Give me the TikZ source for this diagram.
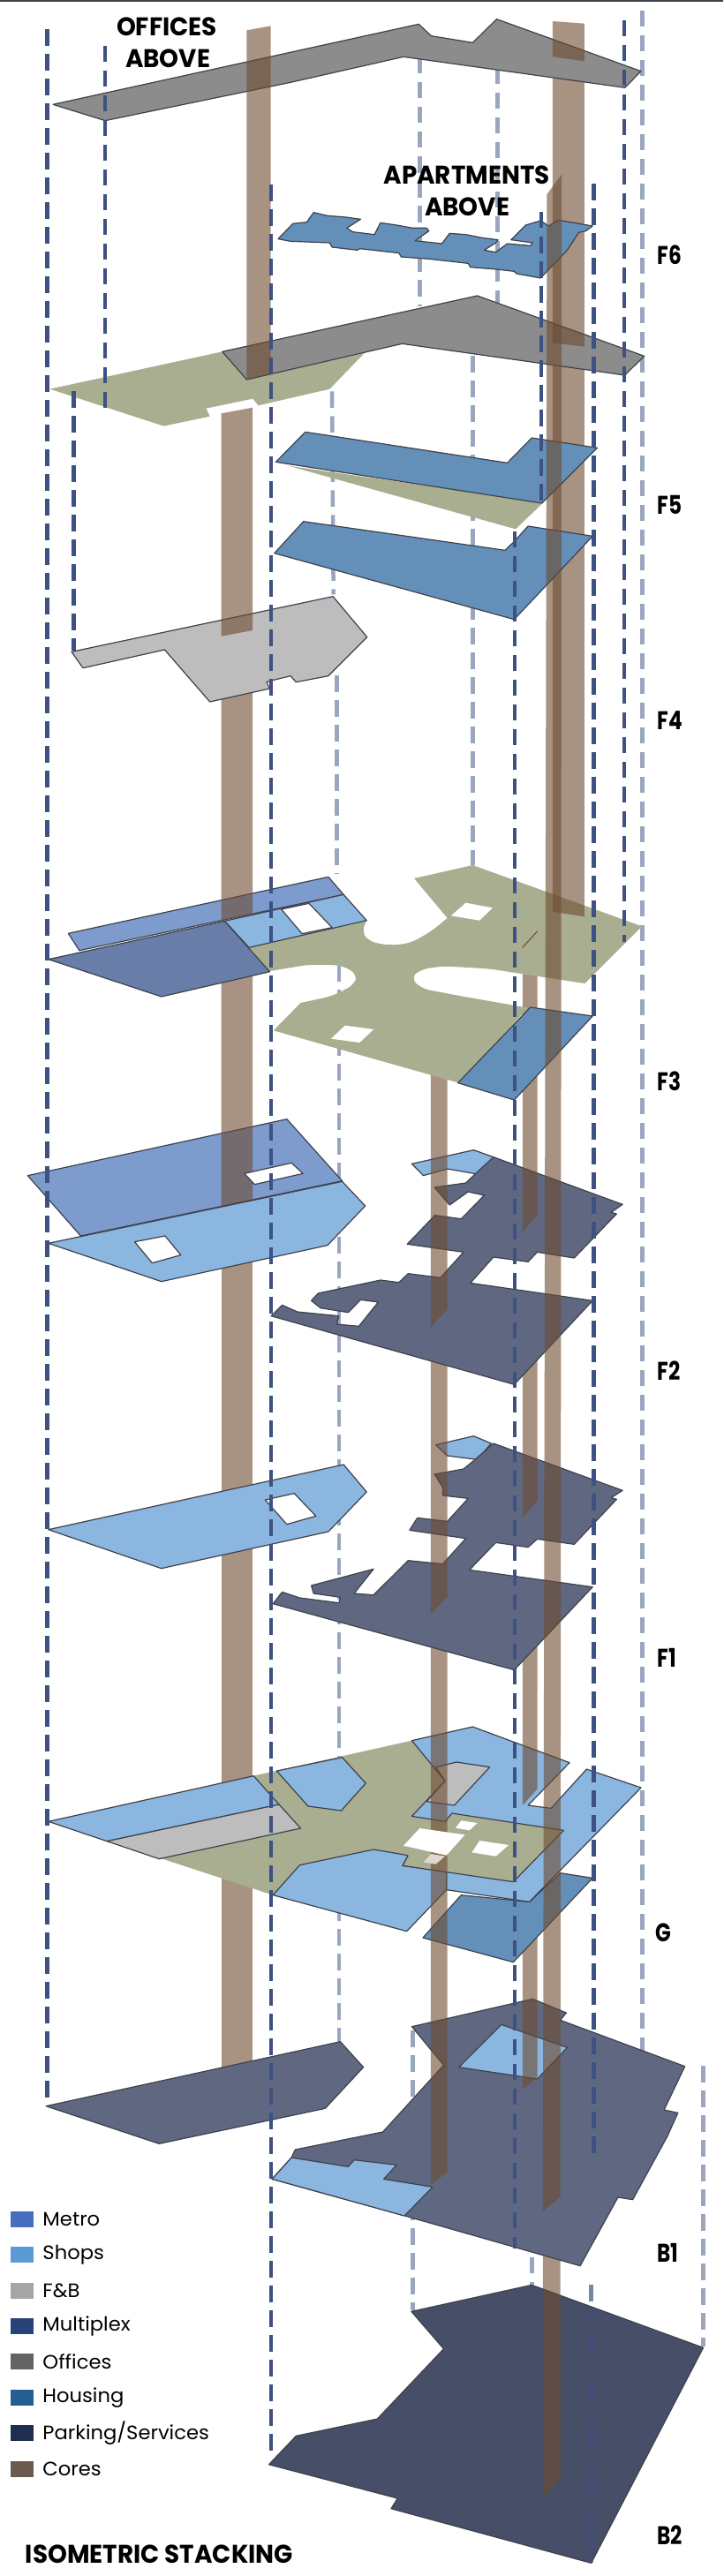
\documentclass[tikz,border=0pt]{standalone}
\usepackage{fontspec}
\setmainfont{Poppins}
\usetikzlibrary{positioning}
\definecolor{metrocol}{RGB}{126,155,206}
\definecolor{shopcol}{RGB}{138,182,223}
\definecolor{fbcol}{RGB}{189,189,189}
\definecolor{multicol}{RGB}{104,125,168}
\definecolor{officecol}{RGB}{140,140,140}
\definecolor{housecol}{RGB}{99,143,184}
\definecolor{parkcol}{RGB}{95,104,128}
\definecolor{basecol}{RGB}{70,78,104}
\definecolor{olivecol}{RGB}{169,174,145}
\definecolor{corecol}{RGB}{110,75,48}
\definecolor{edgecol}{RGB}{62,66,76}
\definecolor{dashdark}{RGB}{61,81,130}
\definecolor{dashlight}{RGB}{154,166,190}
\tikzset{
  c2/.style={shift={(0,1440)}},
  c3/.style={shift={(0,2880)}},
  c4/.style={shift={(0,4320)}},
  c5/.style={shift={(0,5760)}},
  c6/.style={shift={(0,7260)}},
  plate/.style={draw=edgecol, line width=1.2pt, line join=round},
  hole/.style={plate, fill=white},
  core/.style={fill=corecol, fill opacity=.6, draw=none},
  dark/.style={draw=dashdark, line width=4.5pt, dash pattern=on 18.5pt off 9.5pt},
  pale/.style={draw=dashlight, line width=4.5pt, dash pattern=on 18.5pt off 9.5pt},
  floorlabel/.style={anchor=west, inner sep=0pt, font=\fontsize{29}{29}\selectfont\bfseries, xscale=.8, transform shape},
  heading/.style={inner sep=0pt, font=\fontsize{29}{29}\selectfont\bfseries, xscale=.96, transform shape},
  swatch/.style={minimum width=26pt, minimum height=18pt, inner sep=0pt},
  keytext/.style={anchor=west, inner sep=0pt, font=\fontsize{22}{22}\selectfont, xscale=1.03, transform shape}
}
\begin{document}
\begin{tikzpicture}[x=0.52232pt, y=-0.33333pt]
  \useasboundingbox (0,0) rectangle (1568,8754);
  \draw[draw=edgecol, line width=1.6pt] (0,3) -- (1568,3);
  % pale lines at the back
  \draw[pale] (1393,35) -- (1393,6985);
  \draw[pale] (910,195) -- (910,1040);
  \draw[pale] (1079,230) -- (1079,1030);
  \draw[pale] (1025,1210) -- (1025,2940);
  \draw[pale] (720,1330) -- (723,2020);
  \draw[pale] (730,2295) -- (730,2970);
  \draw[pale] (735,3280) -- (735,6940);
  \draw[pale] (895,6900) -- (895,7850);
  \draw[pale] (1525,7020) -- (1525,7975);
  \draw[pale] (1153,7670) -- (1153,7765);
  % B2
  \filldraw[plate, fill=basecol, c6] (892,595) -- (1153,505) -- (1525,718) -- (1282,1450) -- (848,1265) -- (862,1230) -- (583,1115) -- (642,1018) -- (818,960) -- (962,722) -- cycle;
  \fill[core] (1177,7660) -- (1215,7660) -- (1215,8425) -- (1177,8490) -- cycle;
  \fill[core] (480,4180) -- (548,4180) -- (548,7060) -- (480,7060) -- cycle;
  % B1
  \filldraw[plate, fill=parkcol, c5] (100,1397) -- (738,1178) -- (788,1265) -- (705,1405) -- (345,1525) -- cycle;
  \filldraw[plate, fill=parkcol] (893,6887) -- (1155,6793) -- (1228,6840) -- (1215,6865) -- (1485,7022) -- (1440,7170) -- (1470,7180) -- (1447,7260) -- (1372,7475) -- (1340,7467) -- (1258,7700) -- (878,7530) -- (590,7405) -- (632,7332) -- (640,7305) -- (830,7245) -- (962,7018) -- cycle;
  \filldraw[plate, fill=shopcol, c6] (590,145) -- (632,72) -- (755,103) -- (768,80) -- (860,97) -- (832,145) -- (938,172) -- (877,270) -- cycle;
  \filldraw[plate, fill=shopcol, c5] (1087,1120) -- (1230,1198) -- (1165,1305) -- (995,1265) -- cycle;
  \fill[core] (1133,6510) -- (1165,6510) -- (1165,7060) -- (1133,7102) -- cycle;
  % G
  \begin{scope}[c5]
    \filldraw[plate, fill=housecol] (917,825) -- (1000,680) -- (1148,703) -- (1215,605) -- (1285,622) -- (1113,908) -- cycle;
    \fill[olivecol] (105,430) -- (893,155) -- (965,292) -- (893,412) -- (965,430) -- (980,402) -- (1222,460) -- (1113,635) -- (873,580) -- (885,545) -- (810,525) -- (650,578) -- (592,680) -- cycle;
    \filldraw[plate, fill=shopcol] (893,155) -- (1025,108) -- (1235,230) -- (1145,375) -- (1195,385) -- (1272,252) -- (1390,315) -- (1148,703) -- (968,662) -- (968,580) -- (1000,450) -- (965,430) -- (893,412) -- (965,292) -- cycle;
    \filldraw[plate, fill=fbcol] (945,245) -- (990,228) -- (1062,245) -- (985,375) -- (925,362) -- (965,292) -- cycle;
    \filldraw[plate, fill=shopcol] (650,578) -- (810,525) -- (885,545) -- (873,580) -- (968,600) -- (968,662) -- (882,803) -- (592,680) -- cycle;
    \filldraw[plate, fill=shopcol] (105,430) -- (550,275) -- (605,372) -- (232,497) -- cycle;
    \filldraw[plate, fill=fbcol] (232,497) -- (605,372) -- (652,453) -- (345,557) -- cycle;
    \filldraw[plate, fill=shopcol] (600,258) -- (742,212) -- (793,300) -- (740,393) -- (668,378) -- cycle;
  \end{scope}
  \fill[core] (1133,5520) -- (1165,5520) -- (1165,6080) -- (1133,6135) -- cycle;
  \begin{scope}[c5]
    \fill[olivecol] (965,430) -- (980,402) -- (1222,460) -- (1113,635) -- (873,580) -- (885,545) -- (850,500) -- cycle;
    \draw[plate] (965,430) -- (980,402) -- (1222,460) -- (1113,635) -- (873,580) -- (885,545);
  \end{scope}
  \fill[core] (934,5570) -- (970,5570) -- (970,7380) -- (934,7425) -- cycle;
  \begin{scope}[c5]
    \fill[white] (910,453) -- (1008,475) -- (968,545) -- (875,512) -- cycle;
    \fill[white] (1000,427) -- (1035,435) -- (1018,460) -- (988,452) -- cycle;
    \fill[white] (1040,495) -- (1103,510) -- (1075,548) -- (1023,535) -- cycle;
    \fill[white!78!corecol] (935,540) -- (965,548) -- (945,575) -- (918,568) -- cycle;
  \end{scope}
  % F1
  \begin{scope}[c4]
    \filldraw[plate, fill=shopcol] (105,878) -- (745,657) -- (795,750) -- (712,885) -- (350,1010) -- cycle;
    \filldraw[hole] (575,777) -- (638,755) -- (685,832) -- (622,860) -- (585,795) -- cycle;
    \filldraw[plate, fill=shopcol] (945,590) -- (1027,560) -- (1065,585) -- (1035,640) -- (970,627) -- cycle;
    \filldraw[plate, fill=parkcol] (1070,585) -- (1350,745) -- (1325,770) -- (1337,775) -- (1245,928) -- (1165,910) -- (1145,938) -- (1075,922) -- (1018,1015) -- (1285,1073) -- (1115,1355) -- (592,1130) -- (612,1090) -- (650,1110) -- (735,1127) -- (738,1108) -- (680,1095) -- (675,1068) -- (810,1012) -- (768,1095) -- (810,1100) -- (885,983) -- (960,995) -- (1010,908) -- (888,880) -- (905,838) -- (970,850) -- (1015,772) -- (960,762) -- (960,735) -- (942,690) -- (1005,672) -- (1030,640) -- cycle;
  \end{scope}
  \fill[core] (934,4570) -- (970,4570) -- (970,5425) -- (934,5485) -- cycle;
  \fill[core] (1133,4520) -- (1165,4520) -- (1165,5100) -- (1133,5158) -- cycle;
  % F2
  \begin{scope}[c3]
    \filldraw[plate, fill=metrocol] (60,1115) -- (622,923) -- (742,1133) -- (175,1320) -- cycle;
  \end{scope}
  \fill[core] (480,3280) -- (548,3280) -- (548,4075) -- (480,4102) -- cycle;
  \begin{scope}[c3]
    \filldraw[hole] (530,1108) -- (632,1072) -- (657,1108) -- (552,1145) -- cycle;
    \filldraw[plate, fill=shopcol] (105,1345) -- (742,1135) -- (792,1218) -- (710,1352) -- (350,1475) -- cycle;
    \filldraw[hole] (292,1340) -- (358,1320) -- (392,1385) -- (330,1412) -- cycle;
  \end{scope}
  \filldraw[plate, fill=shopcol] (893,3955) -- (1027,3908) -- (1070,3932) -- (1035,3990) -- (970,3972) -- (918,3995) -- cycle;
  \filldraw[plate, fill=parkcol] (1070,3932) -- (1350,4093) -- (1325,4120) -- (1337,4125) -- (1245,4275) -- (1165,4255) -- (1145,4288) -- (1070,4272) -- (1020,4360) -- (1285,4420) -- (1115,4705) -- (588,4472) -- (612,4435) -- (645,4458) -- (735,4472) -- (730,4500) -- (778,4507) -- (820,4425) -- (782,4417) -- (755,4460) -- (695,4445) -- (675,4420) -- (690,4395) -- (825,4350) -- (865,4358) -- (885,4328) -- (955,4342) -- (1005,4255) -- (883,4228) -- (943,4130) -- (1000,4142) -- (1050,4062) -- (1015,4050) -- (975,4095) -- (942,4035) -- (1010,4020) -- (1030,3990) -- cycle;
  \fill[core] (934,3580) -- (970,3580) -- (970,4450) -- (934,4510) -- cycle;
  \fill[core] (1133,3180) -- (1165,3180) -- (1165,4130) -- (1133,4185) -- cycle;
  % F3
  \begin{scope}[c3]
    \fill[olivecol] (540,340) -- (795,250) [rounded corners=9pt] -- (783,285) -- (800,320) -- (845,333) -- (890,325) -- (935,285) [sharp corners] -- (970,240) -- (898,105) -- (1025,60) -- (1392,268) -- (1268,462) [rounded corners=9pt] -- (1060,412) -- (960,403) -- (910,415) -- (890,445) -- (915,480) -- (1000,505) [sharp corners] -- (1145,545) -- (995,800) -- (593,622) -- (652,528) [rounded corners=9pt] -- (720,505) -- (770,465) -- (775,430) -- (740,400) -- (670,398) [sharp corners] -- (585,420) -- cycle;
    \fill[white] (1010,188) -- (1068,205) -- (1040,248) -- (978,232) -- cycle;
    \fill[white] (748,605) -- (810,618) -- (780,663) -- (718,650) -- cycle;
    \filldraw[plate, fill=housecol] (1150,543) -- (1285,573) -- (1115,858) -- (993,800) -- cycle;
    \draw[draw=corecol, line width=1pt] (1133,340) -- (1165,285);
  \end{scope}
  \fill[core] (1198,1230) -- (1267,1230) -- (1267,3115) -- (1198,3098) -- cycle;
  \begin{scope}[c3]
    \filldraw[plate, fill=metrocol] (148,292) -- (712,100) -- (745,160) -- (172,350) -- cycle;
  \end{scope}
  \fill[core] (480,2340) -- (548,2340) -- (548,3105) -- (480,3130) -- cycle;
  \begin{scope}[c3]
    \filldraw[plate, fill=shopcol] (487,250) -- (745,160) -- (795,248) -- (540,340) -- cycle;
    \filldraw[hole] (610,210) -- (670,190) -- (720,272) -- (655,293) -- cycle;
    \filldraw[plate, fill=multicol] (105,380) -- (487,250) -- (585,422) -- (350,507) -- cycle;
  \end{scope}
  % F4
  \filldraw[plate, fill=fbcol, c2] (155,775) -- (722,587) -- (796,725) -- (712,857) -- (642,878) -- (630,857) -- (588,873) -- (578,878) -- (585,900) -- (455,945) -- (357,768) -- (180,830) -- cycle;
  \fill[core] (480,1405) -- (548,1385) -- (548,2142) -- (480,2162) -- cycle;
  % F5
  \begin{scope}[c2]
    \filldraw[plate, fill=housecol] (595,440) -- (658,332) -- (1095,430) -- (1115,400) -- (1145,348) -- (1285,382) -- (1115,665) -- cycle;
    \fill[olivecol] (625,143) -- (1178,268) -- (1118,358) -- cycle;
    \filldraw[plate, fill=housecol] (598,130) -- (662,28) -- (1100,133) -- (1153,48) -- (1295,82) -- (1175,270) -- cycle;
  \end{scope}
  \fill[olivecol] (108,1322) -- (482,1195) -- (535,1290) -- (790,1200) -- (715,1322) -- (560,1378) -- (548,1355) -- (447,1388) -- (455,1415) -- (355,1448) -- cycle;
  \filldraw[plate, fill=officecol] (482,1195) -- (1035,1005) -- (1397,1210) -- (1355,1275) -- (872,1168) -- (535,1290) -- cycle;
  \fill[core] (1198,200) -- (1267,200) -- (1267,1178) -- (1198,1165) -- cycle;
  % F6
  \filldraw[plate, fill=housecol] (603,812) -- (635,760) -- (665,755) -- (680,722) -- (710,733) -- (750,738) -- (782,745) -- (752,775) -- (765,788) -- (812,797) -- (825,757) -- (860,765) -- (895,775) -- (925,775) -- (930,785) -- (900,818) -- (958,828) -- (975,793) -- (1010,797) -- (1045,808) -- (1080,815) -- (1075,825) -- (1050,850) -- (1075,857) -- (1100,828) -- (1150,835) -- (1155,825) -- (1108,815) -- (1140,765) -- (1172,750) -- (1190,768) -- (1210,748) -- (1285,768) -- (1270,785) -- (1255,790) -- (1230,850) -- (1172,945) -- (1120,930) -- (1115,922) -- (1075,915) -- (1020,908) -- (1015,895) -- (930,880) -- (870,873) -- (865,860) -- (780,845) -- (775,850) -- (720,840) -- (715,825) -- (630,820) -- cycle;
  % roof
  \filldraw[plate, fill=officecol] (115,355) -- (908,82) -- (935,122) -- (1025,145) -- (1077,65) -- (1390,242) -- (1355,298) -- (875,193) -- (630,280) -- (228,410) -- cycle;
  \fill[core] (1198,72) -- (1267,80) -- (1267,208) -- (1198,193) -- cycle;
  \fill[core] (535,103) -- (587,88) -- (587,1270) -- (535,1290) -- cycle;
  \fill[core] (1186,660) -- (1218,592) -- (1215,7465) -- (1177,7515) -- cycle;
  % dark lines on top
  \draw[dark] (102,100) -- (102,7150);
  \draw[dark] (228,155) -- (228,1385);
  \draw[dark] (160,1330) -- (160,2210);
  \draw[dark] (588,628) -- (588,8350);
  \draw[dark] (1174,720) -- (1174,1710);
  \draw[dark] (1116,1805) -- (1116,7640);
  \draw[dark] (1287,625) -- (1287,7335);
  \draw[dark] (1354,68) -- (1354,3200);
  \draw[dark, opacity=.7] (1282,7765) -- (1282,8710);
  % labels
  \node[heading] (offone) at (362,90) {OFFICES};
  \node[heading] (offtwo) at (364,198) {ABOVE};
  \node[heading] (aptone) at (1012,594) {APARTMENTS};
  \node[heading] (apttwo) at (1013,702) {ABOVE};
  \node[floorlabel] (fsix) at (1425,866) {F6};
  \node[floorlabel] (ffive) at (1425,1717) {F5};
  \node[floorlabel] (ffour) at (1425,2447) {F4};
  \node[floorlabel] (fthree) at (1425,3675) {F3};
  \node[floorlabel] (ftwo) at (1425,4657) {F2};
  \node[floorlabel] (fone) at (1425,5635) {F1};
  \node[floorlabel] (gnd) at (1421,6567) {G};
  \node[floorlabel] (bone) at (1425,7657) {B1};
  \node[floorlabel] (btwo) at (1425,8615) {B2};
  \node[heading, anchor=west] (title) at (55,8680) {ISOMETRIC STACKING};
  % legend
  \node[swatch, fill={rgb,255:red,70;green,110;blue,190}] (kmetro) at (48,7541) {};
  \node[swatch, fill={rgb,255:red,91;green,155;blue,213}, below=22pt of kmetro] (kshops) {};
  \node[swatch, fill={rgb,255:red,165;green,165;blue,165}, below=22pt of kshops] (kfb) {};
  \node[swatch, fill={rgb,255:red,38;green,68;blue,120}, below=22pt of kfb] (kmulti) {};
  \node[swatch, fill={rgb,255:red,99;green,99;blue,99}, below=22pt of kmulti] (koffice) {};
  \node[swatch, fill={rgb,255:red,37;green,94;blue,145}, below=22pt of koffice] (khouse) {};
  \node[swatch, fill={rgb,255:red,31;green,46;blue,78}, below=22pt of khouse] (kpark) {};
  \node[swatch, fill={rgb,255:red,107;green,90;blue,80}, below=22pt of kpark] (kcore) {};
  \node[keytext, right=10pt of kmetro] (tmetro) {Metro};
  \node[keytext, right=10pt of kshops] (tshops) {Shops};
  \node[keytext, right=10pt of kfb] (tfb) {F\&B};
  \node[keytext, right=10pt of kmulti] (tmulti) {Multiplex};
  \node[keytext, right=10pt of koffice] (toffice) {Offices};
  \node[keytext, right=10pt of khouse] (thouse) {Housing};
  \node[keytext, right=10pt of kpark] (tpark) {Parking/Services};
  \node[keytext, right=10pt of kcore] (tcore) {Cores};
\end{tikzpicture}
\end{document}
